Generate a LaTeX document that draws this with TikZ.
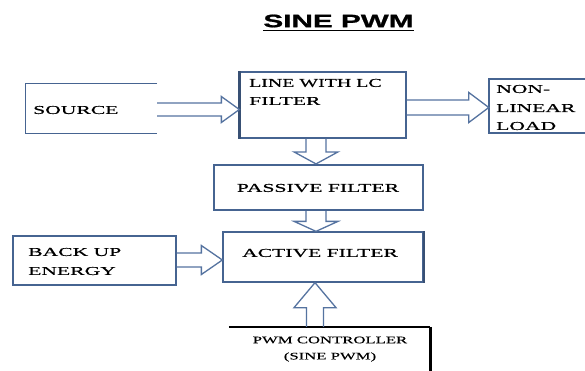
\documentclass[tikz,border=0pt]{standalone}
\usepackage{fontspec}
\newfontfamily\bodyf[FakeStretch=1.8,FakeBold=0.6]{Liberation Serif}
\newfontfamily\smallf[FakeStretch=1.67,FakeBold=0.4]{Liberation Serif}
\newfontfamily\titlef[FakeStretch=1.65,FakeBold=1]{Liberation Sans}
\usetikzlibrary{calc}
\definecolor{boxc}{RGB}{70,100,145}
\definecolor{arrc}{RGB}{85,115,160}
\tikzset{
  box/.style={rectangle, draw=boxc, line width=1.3pt, inner sep=0pt},
  openbox/.style={rectangle, inner sep=0pt},
  edge3/.style={draw=boxc, line width=1.3pt},
  lbl/.style={font=\bodyf\fontsize{12}{12}\selectfont, inner sep=0pt, anchor=west},
  clbl/.style={font=\bodyf\fontsize{12}{12}\selectfont, inner sep=0pt},
  slbl/.style={font=\smallf\fontsize{10}{10}\selectfont, inner sep=0pt},
  arr/.style={draw=arrc, line width=1.3pt, line join=miter},
}
% horizontal hollow arrow: start, tip, half shaft, half head, head length
\newcommand\hollowH[5]{%
  \draw[arr] let \p1=(#1), \p2=(#2) in
    (\x1,\y2+#3) -- (\x2-#5,\y2+#3) -- (\x2-#5,\y2+#4) -- (\x2,\y2)
    -- (\x2-#5,\y2-#4) -- (\x2-#5,\y2-#3) -- (\x1,\y2-#3);}
% vertical hollow arrow: start, tip, half shaft, half head, head length (canvas, + = head above tip)
\newcommand\hollowV[5]{%
  \draw[arr] let \p1=(#1), \p2=(#2) in
    (\x2+#3,\y1) -- (\x2+#3,\y2+#5) -- (\x2+#4,\y2+#5) -- (\x2,\y2)
    -- (\x2-#4,\y2+#5) -- (\x2-#3,\y2+#5) -- (\x2-#3,\y1);}
\begin{document}
\begin{tikzpicture}[x=1pt,y=-1pt]
\useasboundingbox[fill=white] (0,0) rectangle (585,370);

% title
\node[font=\titlef\bfseries\fontsize{18}{18}\selectfont, inner sep=0pt] (title) at (338.5,21) {SINE PWM};
\draw[line width=1.6pt] ($(title.base west)+(0,3.5)$) -- ($(title.base east)+(0,3.5)$);

% boxes
\node[openbox, minimum width=131pt, minimum height=49pt] (src) at (91.5,108.5) {};
\draw[edge3] (src.north east) -- (src.north west) -- (src.south west) -- (src.south east);
\node[box, minimum width=166pt, minimum height=66pt] (lc) at (323,105) {};
\draw[draw=boxc!80!black, line width=2.8pt] (lc.north west) -- (lc.south west);
\node[openbox, minimum width=96pt, minimum height=54pt] (load) at (537,106) {};
\draw[edge3, line width=1.8pt] (load.north east) -- (load.north west) -- (load.south west) -- (load.south east);
\node[box, line width=2.2pt, minimum width=209pt, minimum height=45pt] (passive) at (318.5,187.5) {};
\node[box, minimum width=200pt, minimum height=50pt] (active) at (323,257) {};
\draw[draw=boxc!80!black, line width=2.2pt] (active.north east) -- (active.south east);
\node[box, minimum width=163pt, minimum height=49pt] (backup) at (94.5,260.5) {};
\node[openbox, minimum width=201pt, minimum height=44pt] (pwm) at (329.5,349) {};
\draw[line width=1.6pt] (pwm.north west) -- (pwm.north east);
\draw[line width=3pt] (pwm.north east) -- (pwm.south east);

% labels
\node[lbl] (tsrc) at (33,110) {SOURCE};
\node[lbl] (tlc1) at (249,83) {\scalebox{0.92}[1]{LINE WITH LC}};
\node[lbl] (tlc2) at (249,101) {FILTER};
\node[lbl] (tload1) at (496,89) {NON-};
\node[lbl] (tload2) at (496,108) {LINEAR};
\node[lbl] (tload3) at (496,126) {LOAD};
\node[clbl] (tpass) at (318,188) {PASSIVE FILTER};
\node[clbl] (tact) at (320,253) {ACTIVE FILTER};
\node[lbl] (tback1) at (28,252) {BACK UP};
\node[lbl] (tback2) at (28,271) {ENERGY};
\node[slbl] (tpwm1) at (330,340) {PWM CONTROLLER};
\node[slbl] (tpwm2) at (330,357) {(SINE PWM)};

% arrows
\hollowH{src.east}{$(lc.west)+(0,4.5)$}{6.5pt}{13pt}{18pt}
\hollowH{lc.east}{$(load.west)+(0,1.5)$}{7.5pt}{15pt}{20pt}
\hollowV{lc.south}{$(passive.north)+(-2.5,0)$}{10pt}{22pt}{12pt}
\hollowV{passive.south}{$(active.north)+(-7,0)$}{10pt}{22pt}{10pt}
\hollowH{backup.east}{$(active.west)+(0,3)$}{7pt}{14.5pt}{21pt}
\hollowV{pwm.north}{$(active.south)+(-8,0)$}{8.5pt}{21pt}{-25pt}
\end{tikzpicture}
\end{document}
